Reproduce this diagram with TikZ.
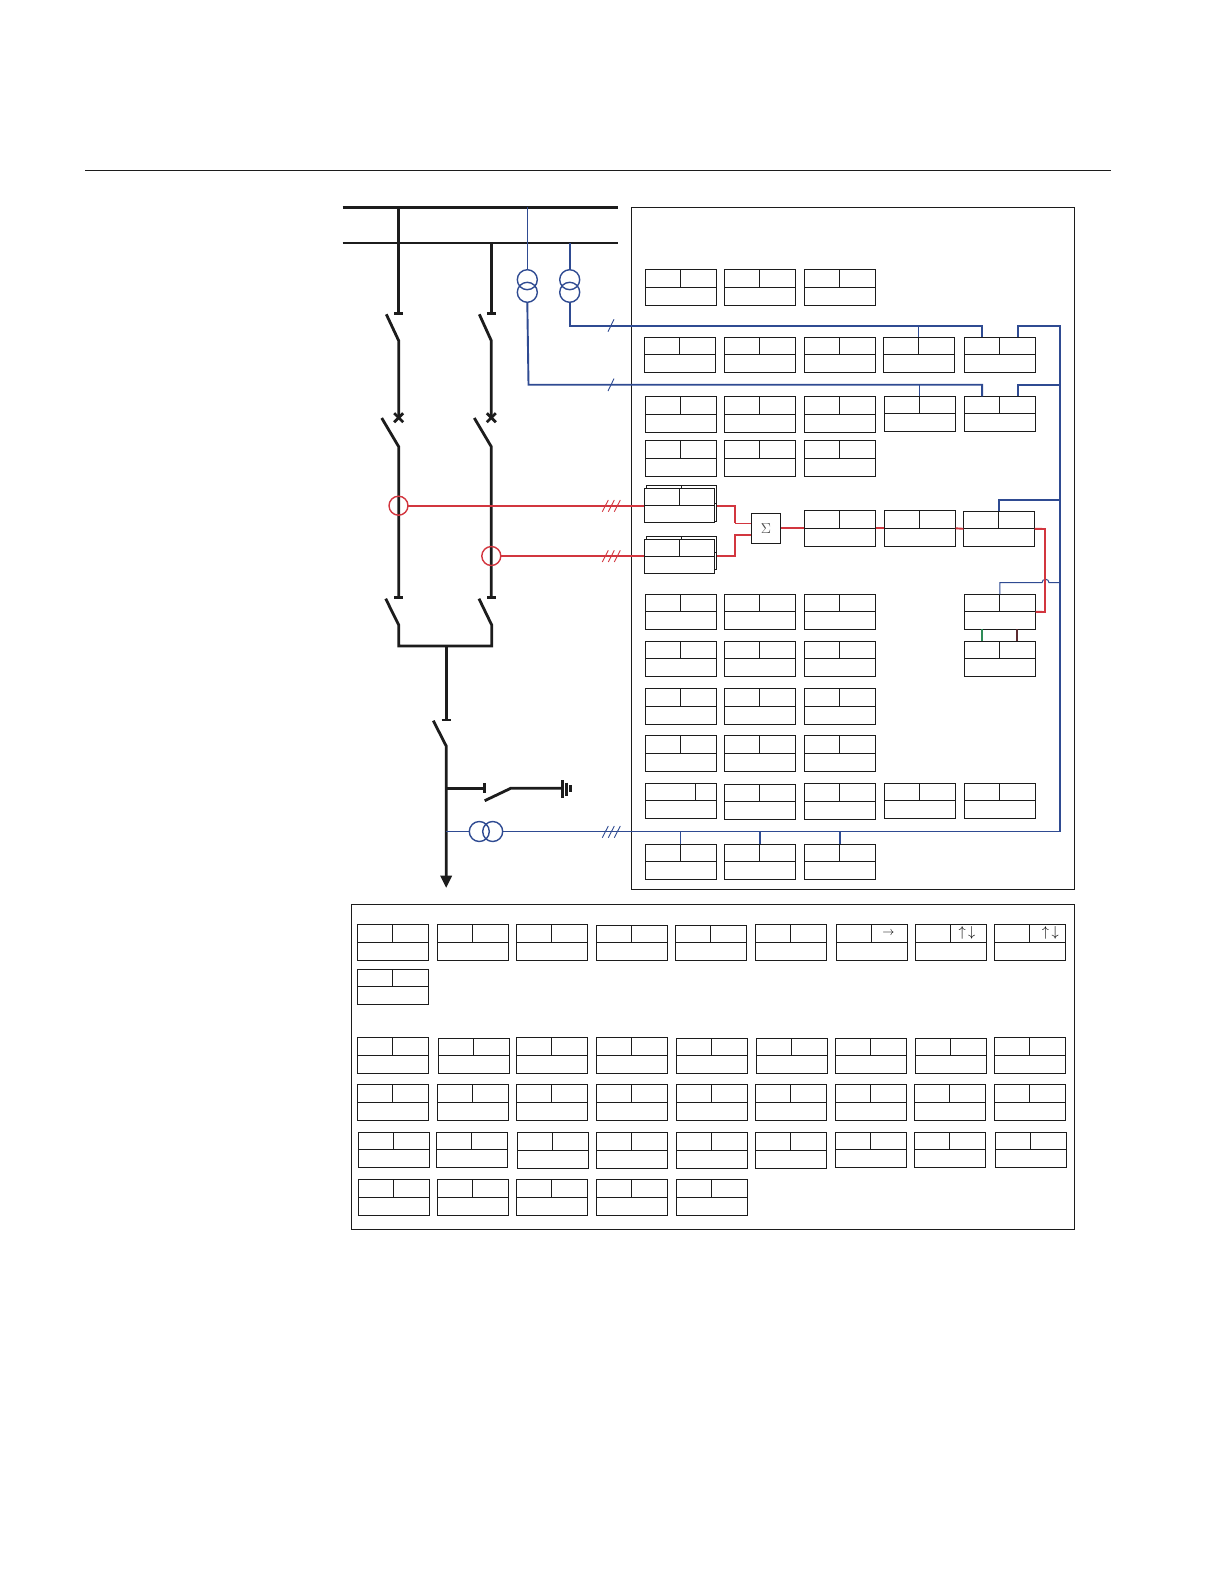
\documentclass[tikz,border=0pt]{standalone}
\usetikzlibrary{calc,arrows.meta}
\definecolor{inkblack}{HTML}{1C1C1C}
\definecolor{ctblue}{HTML}{2F4B92}
\definecolor{ctred}{HTML}{D2363F}
\definecolor{tripgreen}{HTML}{2E8B57}
\definecolor{tripbrown}{HTML}{5C2B30}
\tikzset{
    fnbox/.style={draw=inkblack,line width=1pt,fill=white,anchor=north west,inner sep=0pt,outer sep=0pt,
        minimum width=71.3pt,minimum height=36pt,
        path picture={
            \draw[inkblack,line width=1pt] (path picture bounding box.west) -- (path picture bounding box.east);
            \draw[inkblack,line width=1pt] (path picture bounding box.north) -- (path picture bounding box.center);}},
    fnshort/.style={fnbox,minimum height=35pt},
    fnwide/.style={draw=inkblack,line width=1pt,fill=white,anchor=north west,inner sep=0pt,outer sep=0pt,
        minimum width=71.3pt,minimum height=35pt,
        path picture={
            \draw[inkblack,line width=1pt] (path picture bounding box.west) -- (path picture bounding box.east);
            \draw[inkblack,line width=1pt] ($(path picture bounding box.north west)!0.71!(path picture bounding box.north east)$) -- ($(path picture bounding box.west)!0.71!(path picture bounding box.east)$);}},
    frame/.style={draw=inkblack,line width=1pt},
    power/.style={draw=inkblack,line width=2.8pt},
    vtring/.style={circle,draw=ctblue,line width=1.4pt,minimum size=20pt,inner sep=0pt,outer sep=0pt},
    ctring/.style={circle,draw=ctred,line width=1.4pt,minimum size=19pt,inner sep=0pt,outer sep=0pt},
    blueline/.style={draw=ctblue,line width=1.9pt},
    bluethin/.style={draw=ctblue,line width=1pt},
    redline/.style={draw=ctred,line width=1.9pt},
    redthin/.style={draw=ctred,line width=1pt},
    marktick/.style={line width=0.9pt}
}
\begin{document}
\begin{tikzpicture}[x=1pt,y=-1pt]
    \useasboundingbox (0,0) rectangle (1225,1582);
    \draw[inkblack,line width=1pt] (85,170.5) -- (1111,170.5);
    \draw[frame] (631.5,207.3) rectangle (1074.6,889.3);
    \draw[frame] (351,904.3) rectangle (1074.6,1229);

    \draw[power,line width=3.2pt] (342.7,207.3) -- (617.7,207.3);
    \draw[power,line width=2.4pt] (342.7,243) -- (617.7,243);
    \draw[power] (398.7,207.3) -- (398.7,313.3);
    \draw[power] (491.3,243) -- (491.3,313.3);
    \foreach \x/\y in {398.7/313.3,491.3/313.3,398.7/597.3,491.5/597.3,446.2/720} {
        \draw[power] (\x-4.5,\y) -- (\x+4.5,\y);
    }
    \draw[power] (386.3,314.3) -- (398.7,340.7) -- (398.7,417.7);
    \draw[power] (479.3,314.3) -- (491.3,340.7) -- (491.3,417.7);
    \foreach \x in {398.7,491.3} {
        \draw[power] (\x-4.5,413.2) -- (\x+4.5,422.2);
        \draw[power] (\x-4.5,422.2) -- (\x+4.5,413.2);
    }
    \draw[power] (381.7,418) -- (398.7,446.7) -- (398.7,597.3);
    \draw[power] (474.3,418) -- (491.3,446.7) -- (491.3,597.3);
    \draw[power] (385.7,598.7) -- (398.7,625) -- (398.7,646) -- (491.7,646) -- (491.7,625) -- (479,598.7);
    \draw[power] (446.2,646) -- (446.2,720);
    \draw[power] (433.3,720.7) -- (446.2,746) -- (446.2,877);
    \fill[inkblack] (440.2,875.7) -- (452.2,875.7) -- (446.2,887.7) -- cycle;
    \draw[power] (446.2,788.3) -- (484.7,788.3);
    \draw[power] (484.7,783.3) -- (484.7,793.3);
    \draw[power] (484.7,800.7) -- (510.7,788.3) -- (562.3,788.3);
    \draw[power] (562.3,780) -- (562.3,798.3);
    \draw[power] (566.3,782.7) -- (566.3,796);
    \draw[power] (570.3,785.3) -- (570.3,792);

    \foreach \x [count=\i] in {645.3,724.3,804.3} \node[fnbox] (a\i) at (\x,269.3) {};
    \foreach \x [count=\i] in {644.3,724.3,804.3,883.3,964.3} \node[fnshort] (b\i) at (\x,337.3) {};
    \foreach \x [count=\i] in {645.3,724.3,804.3} \node[fnbox] (c\i) at (\x,396.3) {};
    \foreach \x [count=\i from 4] in {884.3,964.3} \node[fnshort] (c\i) at (\x,396.3) {};
    \foreach \x [count=\i] in {645.3,724.3,804.3} \node[fnbox] (d\i) at (\x,440.3) {};
    \node[fnbox,minimum width=70pt] (e0) at (646.7,485) {};
    \node[fnbox,minimum width=69.7pt,minimum height=34pt] (e1) at (644.3,488) {};
    \node[fnbox,minimum width=70pt,minimum height=32.5pt] (f0) at (646.7,536.7) {};
    \node[fnbox,minimum width=69.7pt,minimum height=34pt] (f1) at (644.3,539) {};
    \node[draw=inkblack,line width=1pt,inner sep=0pt,minimum width=29.4pt,minimum height=30pt] (sum) at (766,528.3) {\textcolor{inkblack!80}{\Large$\Sigma$}};
    \foreach \x [count=\i] in {804.3,884.3} \node[fnbox] (g\i) at (\x,510.3) {};
    \node[fnshort] (g3) at (963.3,511.3) {};
    \foreach \x [count=\i] in {645.3,724.3,804.3,964.3} \node[fnshort] (h\i) at (\x,594.3) {};
    \foreach \x [count=\i] in {645.3,724.3,804.3,964.3} \node[fnshort] (j\i) at (\x,641.3) {};
    \foreach \x [count=\i] in {645.3,724.3,804.3} \node[fnbox] (k\i) at (\x,688.3) {};
    \foreach \x [count=\i] in {645.3,724.3,804.3} \node[fnbox] (l\i) at (\x,735.3) {};
    \node[fnwide] (m1) at (645.3,783.3) {};
    \node[fnshort] (m2) at (724.3,784.3) {};
    \node[fnbox] (m3) at (804.3,783.3) {};
    \foreach \x [count=\i from 4] in {884.3,964.3} \node[fnshort] (m\i) at (\x,783.3) {};
    \foreach \x [count=\i] in {645.3,724.3,804.3} \node[fnshort] (n\i) at (\x,844.3) {};

    \foreach \x/\y/\s [count=\i] in {357.3/924.3/fnbox,437.3/924.3/fnbox,516.3/924.3/fnbox,596.3/925.3/fnshort,675.3/925.3/fnshort,755.3/924.3/fnbox,836.3/924.3/fnbox,915.3/924.3/fnbox,994.3/924.3/fnbox} \node[\s] (p\i) at (\x,\y) {};
    \node[fnshort] (q1) at (357.3,969.3) {};
    \foreach \x/\y/\s [count=\i] in {357.3/1037.3/fnbox,438.3/1038.3/fnshort,516.3/1037.3/fnbox,596.3/1037.3/fnbox,676.3/1038.3/fnshort,756.3/1038.3/fnshort,835.3/1038.3/fnshort,915.3/1038.3/fnshort,994.3/1037.3/fnbox} \node[\s] (r\i) at (\x,\y) {};
    \foreach \x [count=\i] in {357.3,437.3,516.3,596.3,676.3,755.3,835.3,914.3,994.3} \node[fnbox] (s\i) at (\x,1084.3) {};
    \foreach \x/\s [count=\i] in {358.3/fnshort,436.3/fnshort,517.3/fnbox,596.3/fnbox,676.3/fnbox,755.3/fnbox,835.3/fnshort,914.3/fnshort,995.3/fnshort} \node[\s] (t\i) at (\x,1132.3) {};
    \foreach \x [count=\i] in {358.3,437.3,516.3,596.3,676.3} \node[fnbox] (u\i) at (\x,1179.3) {};

    \node at ($(p7.north)+(16.5,8.8)$) {\large$\rightarrow$};
    \node at ($(p8.north)+(16,8.8)$) {\Large$\uparrow\,\downarrow$};
    \node at ($(p9.north)+(20.4,8.8)$) {\Large$\uparrow\,\downarrow$};

    \node[vtring] (vt1a) at (527.3,279.7) {};
    \node[vtring] (vt1b) at (527.3,292.3) {};
    \node[vtring] (vt2a) at (569.7,279.7) {};
    \node[vtring] (vt2b) at (569.7,292.3) {};
    \node[vtring] (ct3a) at (479.3,831.5) {};
    \node[vtring] (ct3b) at (492.7,831.5) {};
    \node[ctring] (ct1) at (398.5,505.7) {};
    \node[ctring] (ct2) at (491.3,556) {};

    \coordinate (bustop) at (1060,325.7);
    \coordinate (busmid) at (1060,384.7);
    \coordinate (busfeed) at (1060,500);
    \coordinate (bushop) at (1060,582.7);
    \coordinate (busend) at (1060,831.5);
    \coordinate (vtcorner) at (528.5,384.7);
    \coordinate (bleft) at ($(b5.north west)!0.25!(b5.north east)$);
    \coordinate (bright) at ($(b5.north west)!0.75!(b5.north east)$);
    \coordinate (cleft) at ($(c5.north west)!0.25!(c5.north east)$);
    \coordinate (cright) at ($(c5.north west)!0.75!(c5.north east)$);

    \draw[bluethin] (527.3,207.3) -- (vt1a.north);
    \draw[blueline] (569.7,243) -- (vt2a.north);
    \draw[blueline] (vt2b.south) |- (bleft |- bustop) -- (bleft);
    \draw[blueline] (vt1b.south) -- (vtcorner) -- (cleft |- busmid) -- (cleft);
    \draw[bluethin] (b4.north) -- (b4.north |- bustop);
    \draw[bluethin] (c4.north) -- (c4.north |- busmid);
    \draw[blueline] (bright) |- (bustop) -- (busend);
    \draw[blueline] (cright) |- (busmid);
    \draw[blueline] (g3.north) |- (busfeed);
    \draw[bluethin] (h4.north) |- (1042,582.7) arc[start angle=180,end angle=0,radius=3.5pt] -- (bushop);
    \draw[bluethin] (446.2,831.5) -- (ct3a.west);
    \draw[bluethin] (ct3b.east) -- (busend);
    \draw[bluethin] (n1.north) -- (n1.north |- busend);
    \draw[blueline] (n2.north) -- (n2.north |- busend);
    \draw[blueline] (n3.north) -- (n3.north |- busend);
    \draw[ctblue,marktick] (608,331.7) -- ++(6,-12.4);
    \draw[ctblue,marktick] (608,391) -- ++(6,-12.4);
    \foreach \x in {0,6,12} {
        \draw[ctblue,marktick] (602.3+\x,837.7) -- ++(6,-11.7);
        \draw[ctred,marktick] (602.3+\x,511.7) -- ++(6,-11.7);
        \draw[ctred,marktick] (602.3+\x,562) -- ++(6,-11.7);
    }

    \draw[redline] (ct1.east) -- (ct1.east -| e1.west);
    \draw[redline] (ct2.east) -- (ct2.east -| f1.west);
    \draw[redline] (e0.east |- ct1) -| (735,523.3);
    \draw[redthin] (735,523.3) -- (735,523.3 -| sum.west);
    \draw[redline] (f0.east |- ct2) -| (735,534.7) -- (735,534.7 -| sum.west);
    \draw[redline] (sum.east) -- (g1.west);
    \draw[redline] (g1.east) -- (g2.west);
    \draw[redline] (g2.east) -- (g3.west);
    \draw[redline] (g3.east) -- (1045,529) -- (1045,612) -- (h4.east);
    \draw[tripgreen,line width=1.6pt] (982,629.3) -- (982,641.3);
    \draw[tripbrown,line width=1.6pt] (1016.7,629.3) -- (1016.7,641.3);
\end{tikzpicture}
\end{document}
